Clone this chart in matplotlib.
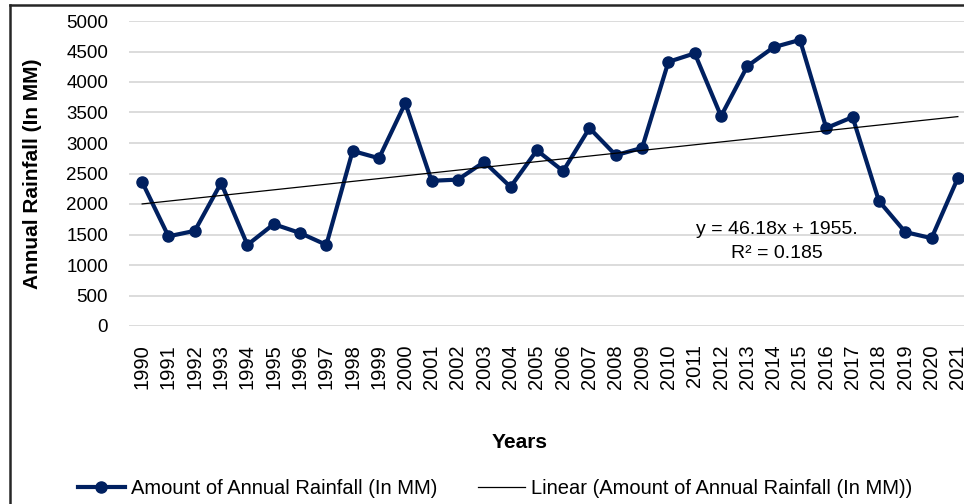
import matplotlib.pyplot as plt
from matplotlib.lines import Line2D

plt.rcParams['font.family'] = ['Liberation Sans', 'DejaVu Sans']

years = [str(y) for y in range(1990, 2022)]
rainfall = [2360, 1470, 1560, 2345, 1330, 1670, 1525, 1330, 2870, 2750,
            3655, 2380, 2400, 2690, 2280, 2880, 2540, 3245, 2800, 2920,
            4330, 4470, 3440, 4260, 4570, 4690, 3245, 3425, 2050, 1540,
            1440, 2425]
slope = 46.18
intercept = 1955
yticks = [0, 500, 1000, 1500, 2000, 2500, 3000, 3500, 4000, 4500, 5000]

W, H = 964, 504
fig = plt.figure(figsize=(W / 100, H / 100), dpi=100)
ax = fig.add_axes([129 / W, 1 - 326 / H, 842 / W, 305 / H])

navy = '#002060'
xs = list(range(len(years)))
ax.plot(xs, rainfall, color=navy, lw=3, marker='o', ms=8,
        label='Amount of Annual Rainfall (In MM)', zorder=3)
trend = [slope * (i + 1) + intercept for i in xs]
ax.plot(xs, trend, color='black', lw=0.9,
        label='Linear (Amount of Annual Rainfall (In MM))', zorder=4)

ax.set_xlim(-0.5, len(years) - 0.5)
ax.set_ylim(0, 5000)
ax.set_yticks(yticks)
ax.set_xticks(xs)
ax.set_xticklabels(years, rotation=90, fontsize=14.5)
ax.tick_params(axis='y', length=0, pad=15, labelsize=13.5)
ax.tick_params(axis='x', length=0, pad=13)
ax.grid(axis='y', color='#d9d9d9', lw=1.3)
ax.set_axisbelow(True)
for s in ax.spines.values():
    s.set_visible(False)

fig.text(33 / W, 1 - 174 / H, 'Annual Rainfall (In MM)', rotation=90,
         fontsize=15, fontweight='bold', ha='center', va='center')
fig.text(520 / W, 1 - 442 / H, 'Years', fontsize=15, fontweight='bold',
         ha='center', va='center')

fig.text(777 / W, 1 - 230 / H, 'y = 46.18x + 1955.', fontsize=14,
         ha='center', va='center')
fig.text(777 / W, 1 - 254 / H, 'R² = 0.185', fontsize=14,
         ha='center', va='center')

handles, labels = ax.get_legend_handles_labels()
fig.legend(handles, labels, loc='center', bbox_to_anchor=(495 / W, 1 - 489 / H),
           ncol=2, frameon=False, fontsize=14.5, handlelength=2.35,
           columnspacing=2.0, handletextpad=0.3)

# chart border (only left and top edges visible in the crop)
fig.add_artist(Line2D([10 / W, 10 / W], [0, 1 - 5 / H], color='#262626',
                      lw=1.8, transform=fig.transFigure))
fig.add_artist(Line2D([10 / W, 1], [1 - 5 / H, 1 - 5 / H], color='#262626',
                      lw=1.8, transform=fig.transFigure))

fig.savefig('out.png', dpi=100)
